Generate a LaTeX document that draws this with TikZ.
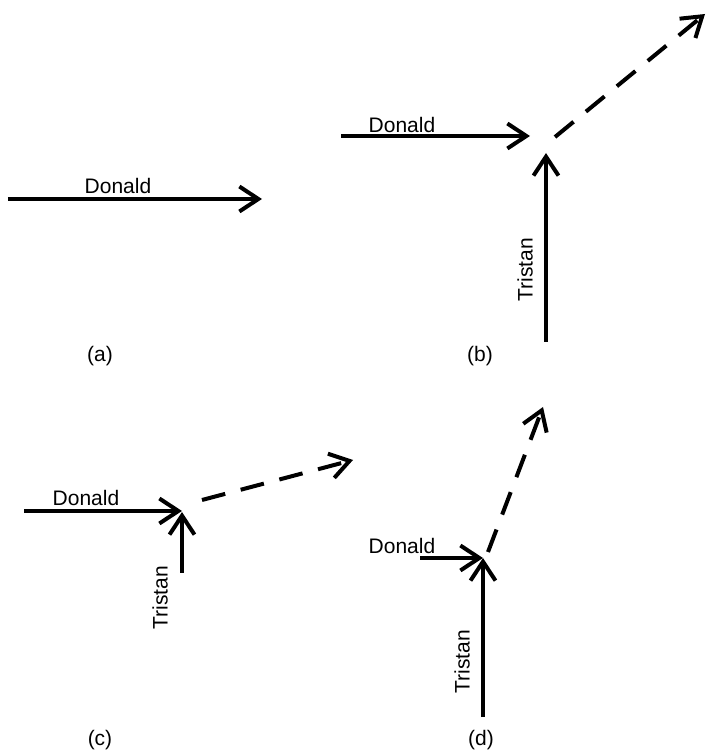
\documentclass[tikz,border=0pt]{standalone}
\usepackage{fontspec}
\setmainfont{Liberation Sans}
\usetikzlibrary{arrows.meta, positioning}
\tikzset{
vec/.style={
  draw,
  line width=2pt,
  -{Straight Barb[length=9.5pt,width=12.5pt,line width=2pt]},
 },
res/.style={vec, dash pattern=on 12pt off 8pt},
who/.style={inner sep=0pt, font=\fontsize{10.5}{12}\selectfont},
tag/.style={inner sep=0pt, font=\fontsize{10.5}{12}\selectfont}
}
\begin{document}
\begin{tikzpicture}[x=0.5pt,y=0.5pt]
 \useasboundingbox (0,0) rectangle (707,752);

 % (a)
 \coordinate (Da0) at (8,553);
 \coordinate (Da1) at (262,553);
 \draw[vec] (Da0) -- (Da1);
 \node[who] (Dna) at (118,566) {Donald};
 \node[tag] (ta) at (100,396) {(a)};

 % (b)
 \coordinate (Db0) at (341,616);
 \coordinate (Db1) at (530,616);
 \coordinate (Tb0) at (546,410);
 \coordinate (Tb1) at (546,599);
 \coordinate (Rb0) at (555,615);
 \coordinate (Rb1) at (705,738);
 \draw[vec] (Db0) -- (Db1);
 \draw[vec] (Tb0) -- (Tb1);
 \draw[res] (Rb0) -- (Rb1);
 \node[who] (Dnb) at (402,627) {Donald};
 \node[who,rotate=90] (Tnb) at (525,482) {Tristan};
 \node[tag] (tb) at (480,396) {(b)};

 % (c)
 \coordinate (Dc0) at (24,241);
 \coordinate (Dc1) at (182,241);
 \coordinate (Tc0) at (182,179);
 \coordinate (Tc1) at (182,240);
 \coordinate (Rc0) at (202,252);
 \coordinate (Rc1) at (353,292);
 \draw[vec] (Dc0) -- (Dc1);
 \draw[vec] (Tc0) -- (Tc1);
 \draw[res] (Rc0) -- (Rc1);
 \node[who] (Dnc) at (86,254) {Donald};
 \node[who,rotate=90] (Tnc) at (160,154) {Tristan};
 \node[tag] (tc) at (100,12) {(c)};

 % (d)
 \coordinate (Dd0) at (420,194);
 \coordinate (Dd1) at (483,194);
 \coordinate (Td0) at (483,35);
 \coordinate (Td1) at (483,194);
 \coordinate (Rd0) at (488,200);
 \coordinate (Rd1) at (543,345);
 \draw[vec] (Dd0) -- (Dd1);
 \draw[vec] (Td0) -- (Td1);
 \draw[res] (Rd0) -- (Rd1);
 \node[who] (Dnd) at (402,206) {Donald};
 \node[who,rotate=90] (Tnd) at (462,90) {Tristan};
 \node[tag] (td) at (481,12) {(d)};
\end{tikzpicture}
\end{document}
